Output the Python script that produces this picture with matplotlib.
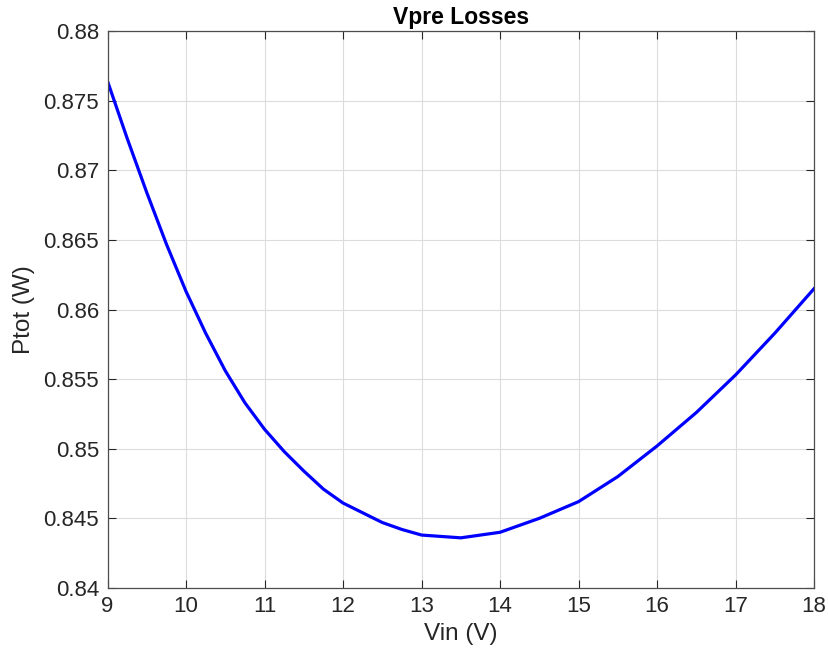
import matplotlib
matplotlib.use('Agg')
import matplotlib.pyplot as plt

# values
vin = [9.0, 9.25, 9.5, 9.75, 10.0, 10.25, 10.5, 10.75, 11.0, 11.25, 11.5, 11.75,
       12.0, 12.25, 12.5, 12.75, 13.0, 13.5, 14.0, 14.5, 15.0, 15.5, 16.0, 16.5,
       17.0, 17.5, 18.0]
ptot = [0.8764, 0.8723, 0.8684, 0.8647, 0.8613, 0.8583, 0.8556, 0.8533, 0.8514, 0.8498, 0.8484, 0.8471,
        0.8461, 0.8454, 0.8447, 0.8442, 0.8438, 0.8436, 0.8440, 0.8450, 0.8462, 0.8480, 0.8502, 0.8526,
        0.8553, 0.8583, 0.8615]

xticks = [9, 10, 11, 12, 13, 14, 15, 16, 17, 18]
yticks = [0.84, 0.845, 0.85, 0.855, 0.86, 0.865, 0.87, 0.875, 0.88]
ytick_labels = ['0.84', '0.845', '0.85', '0.855', '0.86', '0.865', '0.87', '0.875', '0.88']

plt.rcParams['font.family'] = ['Liberation Sans', 'DejaVu Sans']
dark = '#262626'

fig = plt.figure(figsize=(8.29, 6.61), dpi=100)
ax = fig.add_axes([0.1297, 0.1105, 0.8523, 0.8425])

ax.plot(vin, ptot, color='#0000ff', linewidth=2.3, solid_joinstyle='round')

ax.set_xlim(9, 18)
ax.set_ylim(0.84, 0.88)
ax.set_xticks(xticks)
ax.set_yticks(yticks)
ax.set_yticklabels(ytick_labels)
ax.grid(True, color='#dcdcdc', linewidth=0.8)
ax.set_axisbelow(True)

ax.tick_params(direction='in', top=True, right=True, length=6, width=0.8,
               colors=dark, labelsize=16, pad=6)
for s in ax.spines.values():
    s.set_color('#4d4d4d')
    s.set_linewidth(0.9)

ax.set_xlabel('Vin (V)', fontsize=17.5, color=dark, labelpad=4)
ax.set_ylabel('Ptot (W)', fontsize=17.5, color=dark, labelpad=6)
ax.set_title('Vpre Losses', fontsize=16.5, fontweight='bold', color='black', pad=5)

fig.savefig('out.png', dpi=100, facecolor='white')
